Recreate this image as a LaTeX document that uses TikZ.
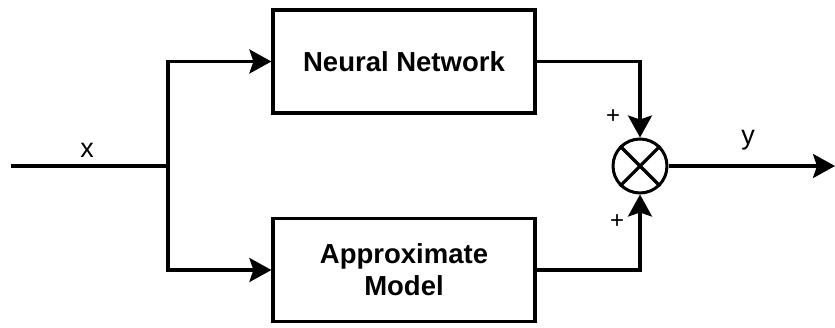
\documentclass[tikz,border=0pt]{standalone}
\usepackage{fontspec}
\setmainfont{Liberation Sans}
\usetikzlibrary{arrows.meta}
\begin{document}
\begin{tikzpicture}[x=1pt,y=-1pt, line width=3.2pt,
  blk/.style={draw, line width=3.2pt, minimum width=262pt, minimum height=103pt,
    font=\bfseries\fontsize{27.5}{32}\selectfont, align=center, inner sep=0pt},
  sumnode/.style={draw, circle, line width=3pt, minimum size=54pt, inner sep=0pt},
  arr/.style={-{Stealth[length=22pt,width=24pt,inset=4pt]}},
  lbl/.style={font=\fontsize{27}{30}\selectfont, inner sep=0pt},
  sgn/.style={font=\fontsize{24}{26}\selectfont, inner sep=0pt}]
\useasboundingbox (0,0) rectangle (835,327);
\node[blk] (nn) at (404,61.5) {Neural Network};
\node[blk] (am) at (404,270) {Approximate\\Model};
\node[sumnode] (s) at (640,166) {};
\draw (s.north east) -- (s.south west);
\draw (s.north west) -- (s.south east);
\coordinate (in) at (11,166);
\coordinate (split) at (168,166);
\coordinate (out) at (835,166);
\draw (in) -- (split);
\draw[arr] (split) |- (nn.west);
\draw[arr] (split) |- (am.west);
\draw[arr] (nn.east) -| (s.north);
\draw[arr] (am.east) -| (s.south);
\draw[arr] (s.east) -- (out);
\node[lbl] (xl) at (87,150) {x};
\node[lbl] (yl) at (748,140) {y};
\node[sgn] (p1) at (613,117) {+};
\node[sgn] (p2) at (617,222) {+};
\end{tikzpicture}
\end{document}
